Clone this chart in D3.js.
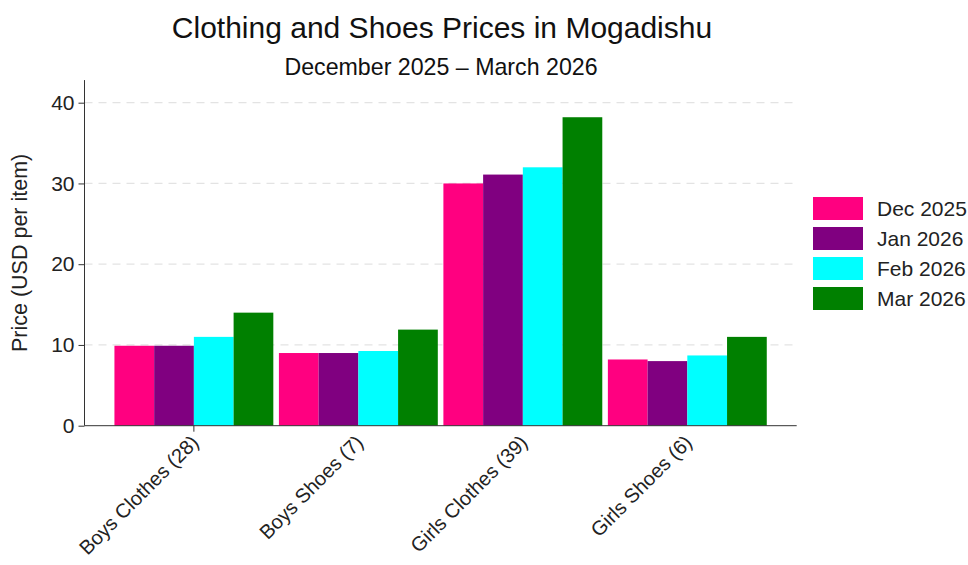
<!DOCTYPE html>
<html>
<head>
<meta charset="utf-8">
<script src="https://cdn.jsdelivr.net/npm/d3@7"></script>
<style>
  html, body { margin: 0; padding: 0; background: #fff; }
  svg { display: block; font-family: "Liberation Sans", Arial, sans-serif; }
</style>
</head>
<body>
<svg id="chart" width="968" height="565"></svg>
<script>
const categories = ["Boys Clothes (28)", "Boys Shoes (7)", "Girls Clothes (39)", "Girls Shoes (6)"];
const seriesNames = ["Dec 2025", "Jan 2026", "Feb 2026", "Mar 2026"];
const dec2025 = [9.9, 9.0, 30.0, 8.2];
const jan2026 = [9.9, 9.0, 31.1, 8.0];
const feb2026 = [11.0, 9.25, 32.0, 8.7];
const mar2026 = [14.0, 11.9, 38.2, 11.0];
const colors = ["#FF0080", "#800080", "#00FFFF", "#008000"];
const yTicks = [0, 10, 20, 30, 40];

const seriesValues = [dec2025, jan2026, feb2026, mar2026];
const data = categories.map((c, i) => ({
  category: c,
  values: seriesNames.map((s, j) => ({ series: s, value: seriesValues[j][i], color: colors[j] }))
}));

const svg = d3.select("#chart");
const left = 84.5, right = 796.7, bottom = 425.7;
const FONT = "'Liberation Sans', Arial, sans-serif";

const x0 = d3.scaleBand().domain(categories).range([left, right]).paddingInner(0.034).paddingOuter(0.182);
const x1 = d3.scaleBand().domain(seriesNames).range([0, x0.bandwidth()]).padding(0);
const y = d3.scaleLinear().domain([0, 40]).range([bottom, 102.7]);
const yTop = y(42.8);

// gridlines
svg.append("g").selectAll("line").data(yTicks.filter(d => d > 0)).join("line")
  .attr("x1", left).attr("x2", right)
  .attr("y1", d => y(d)).attr("y2", d => y(d))
  .attr("stroke", "#e3e3e3").attr("stroke-width", 1.2).attr("stroke-dasharray", "8,6");

// bars
const groups = svg.append("g").selectAll("g").data(data).join("g")
  .attr("transform", d => `translate(${x0(d.category)},0)`);
groups.selectAll("rect").data(d => d.values).join("rect")
  .attr("x", d => x1(d.series))
  .attr("y", d => y(d.value))
  .attr("width", x1.bandwidth())
  .attr("height", d => y(0) - y(d.value))
  .attr("fill", d => d.color);

// y axis
const yAxis = svg.append("g").attr("transform", `translate(${left},0)`)
  .call(d3.axisLeft(y).tickValues(yTicks).tickSize(6).tickPadding(4).tickFormat(d3.format("d")));
yAxis.select(".domain").remove();
yAxis.append("line").attr("x1", 0).attr("x2", 0).attr("y1", yTop).attr("y2", bottom).attr("stroke", "#333");
yAxis.selectAll(".tick line").attr("stroke", "#333");
yAxis.selectAll(".tick text").attr("font-size", 21).attr("fill", "#222").attr("font-family", FONT);

// x axis
const xAxis = svg.append("g").attr("transform", `translate(0,${bottom})`)
  .call(d3.axisBottom(x0).tickSize(0).tickPadding(0));
xAxis.select(".domain").remove();
xAxis.append("line").attr("x1", left).attr("x2", right).attr("y1", 0).attr("y2", 0).attr("stroke", "#333");
xAxis.append("line")
  .attr("x1", x0(categories[0]) + x0.bandwidth() / 2).attr("x2", x0(categories[0]) + x0.bandwidth() / 2)
  .attr("y1", 0).attr("y2", 6).attr("stroke", "#333");
xAxis.selectAll(".tick text")
  .attr("font-size", 20).attr("fill", "#222").attr("font-family", FONT)
  .attr("text-anchor", "end")
  .attr("dy", "0")
  .attr("transform", "translate(6,18) rotate(-45)");

// y label
svg.append("text")
  .attr("transform", `translate(27,${(y(0) + yTop) / 2}) rotate(-90)`)
  .attr("text-anchor", "middle")
  .attr("font-size", 21.5).attr("fill", "#222")
  .text("Price (USD per item)");

// titles
svg.append("text").attr("x", 442).attr("y", 38).attr("text-anchor", "middle")
  .attr("font-size", 30).attr("fill", "#111").text("Clothing and Shoes Prices in Mogadishu");
svg.append("text").attr("x", 441).attr("y", 75).attr("text-anchor", "middle")
  .attr("font-size", 23.2).attr("fill", "#111").text("December 2025 \u2013 March 2026");

// legend
const legend = svg.append("g").attr("transform", "translate(813,197)");
const items = legend.selectAll("g").data(seriesNames).join("g")
  .attr("transform", (d, i) => `translate(0,${i * 30})`);
items.append("rect").attr("width", 50).attr("height", 23).attr("fill", (d, i) => colors[i]);
items.append("text").attr("x", 64).attr("y", 11.5).attr("dy", "0.35em")
  .attr("font-size", 21).attr("fill", "#222").text(d => d);
</script>
</body>
</html>
